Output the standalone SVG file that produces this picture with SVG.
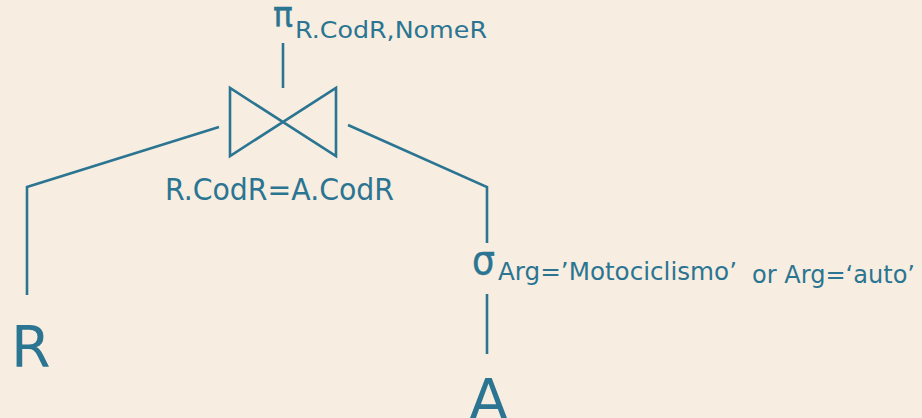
<svg xmlns="http://www.w3.org/2000/svg" width="922" height="418" viewBox="0 0 922 418">
<style>
.ln{stroke:#2B7592;stroke-width:2.6;fill:none;stroke-linecap:butt;stroke-linejoin:miter}
.t{fill:#2B7592;font-family:"DejaVu Sans","Liberation Sans",sans-serif}
.g{stroke:#2B7592;stroke-width:0.4}
</style>
<rect width="922" height="418" fill="#F7EEE1"/>
<g id="connectors">
<line class="ln" x1="283" y1="43" x2="283" y2="88"/>
<polyline class="ln" points="219,127 27,187 27,295"/>
<polyline class="ln" points="348,125 487,187 487,243"/>
<line class="ln" x1="487" y1="294" x2="487" y2="354"/>
</g>
<g id="projection">
<text class="t g" x="273" y="27" font-size="35" textLength="20" lengthAdjust="spacingAndGlyphs">π</text>
<text class="t" x="295" y="37.5" font-size="22.5" textLength="192" lengthAdjust="spacingAndGlyphs">R.CodR,NomeR</text>
</g>
<g id="join">
<path class="ln" d="M230,88 L230,156 L336,88 L336,156 Z"/>
<text class="t" x="165" y="200" font-size="30" textLength="229" lengthAdjust="spacingAndGlyphs">R.CodR=A.CodR</text>
</g>
<g id="selection">
<text class="t g" x="472" y="274" font-size="40" textLength="23" lengthAdjust="spacingAndGlyphs">σ</text>
<text class="t" x="498" y="280" font-size="24" textLength="239" lengthAdjust="spacingAndGlyphs">Arg=’Motociclismo’</text>
<text class="t" x="752" y="283" font-size="24" textLength="163" lengthAdjust="spacingAndGlyphs">or Arg=‘auto’</text>
</g>
<g id="R">
<text class="t" x="11" y="367" font-size="57">R</text>
</g>
<g id="A">
<text class="t" x="469" y="420" font-size="57">A</text>
</g>
</svg>
